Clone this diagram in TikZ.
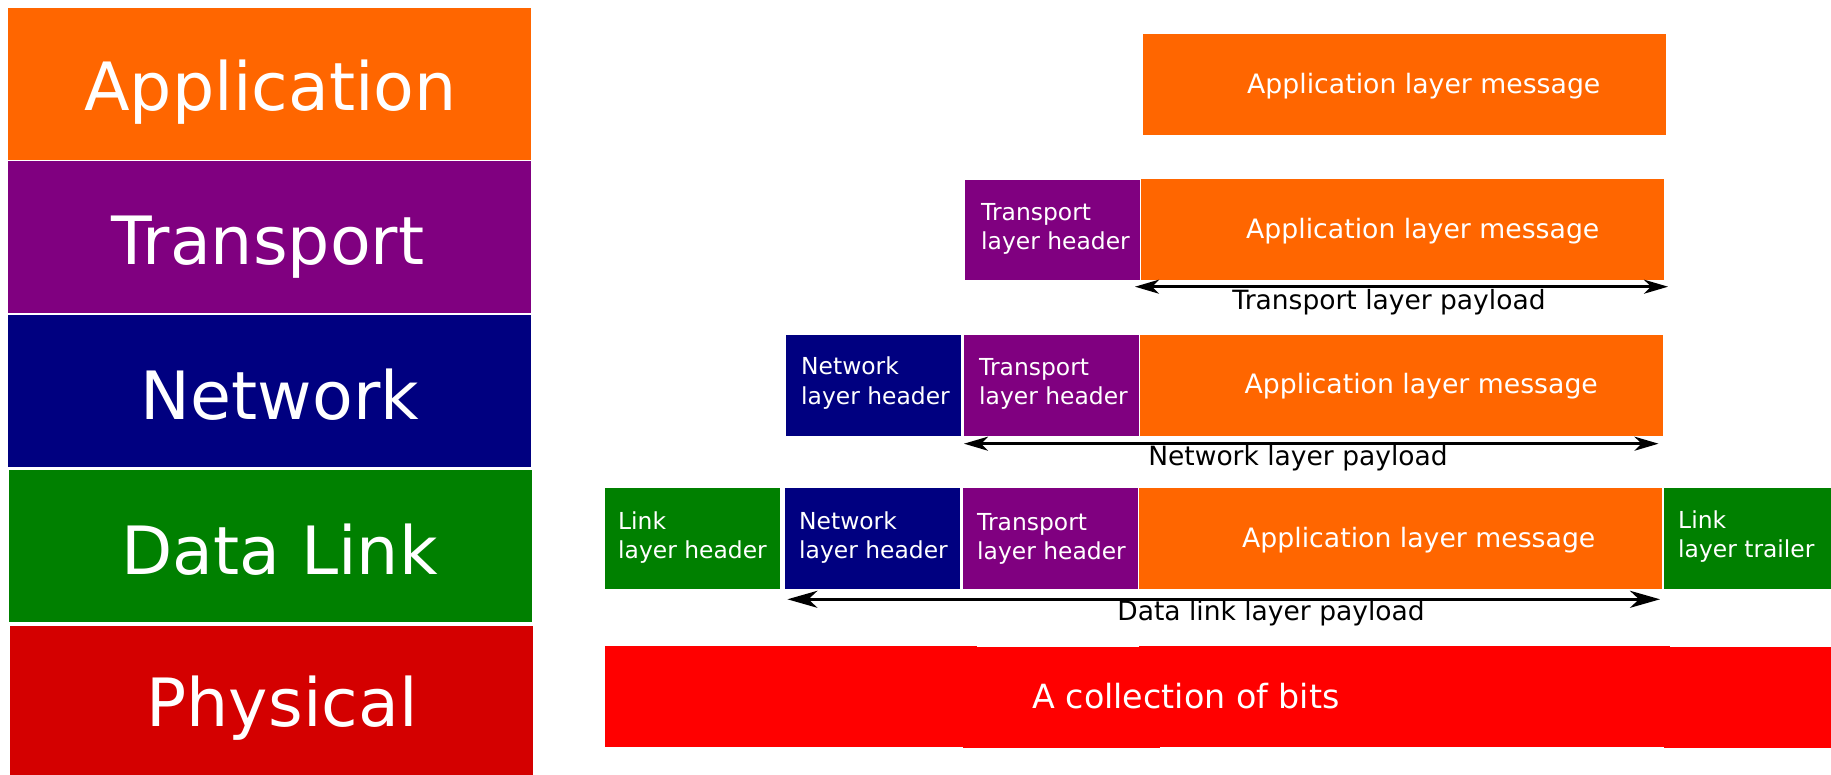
\documentclass[tikz,border=0pt]{standalone}
\usepackage{fontspec}
\setmainfont{DejaVu Sans}
\usetikzlibrary{arrows.meta}

\definecolor{appcol}{HTML}{FF6600}
\definecolor{trncol}{HTML}{800080}
\definecolor{netcol}{HTML}{000080}
\definecolor{lnkcol}{HTML}{008000}
\definecolor{phycol}{HTML}{D40000}
\definecolor{bitcol}{HTML}{FF0000}

\begin{document}
\begin{tikzpicture}[x=1pt,y=-1pt,
  block/.style={fill=#1, draw=none, inner sep=0pt, outer sep=0pt, anchor=north west},
  layername/.style={text=white, inner sep=0pt, anchor=base, font=\fontsize{66.6}{80}\selectfont},
  % two-line header labels; the base anchor sits on the second line
  hdrtext/.style={text=white, inner sep=0pt, anchor=base west, align=left, font=\fontsize{23.4}{29}\selectfont},
  msgtext/.style={text=white, inner sep=0pt, anchor=base west, font=\fontsize{26.7}{32}\selectfont},
  paytext/.style={text=black, inner sep=0pt, anchor=base, font=\fontsize{26.5}{32}\selectfont},
  bitstext/.style={text=white, inner sep=0pt, anchor=base, font=\fontsize{33.3}{40}\selectfont},
  payarrow/.style={line width=2.6pt, {Stealth[length=24pt, width=14pt, inset=7pt]}-{Stealth[length=24pt, width=14pt, inset=7pt]}},
  bigarrow/.style={line width=3pt, {Stealth[length=30pt, width=17pt, inset=9pt]}-{Stealth[length=30pt, width=17pt, inset=9pt]}}]
\useasboundingbox (0,0) rectangle (1831,775);

% ---- protocol stack ----
\node[block=appcol, minimum width=523, minimum height=152] (sApp) at (8,8) {};
\node[block=trncol, minimum width=523, minimum height=152] (sTrn) at (8,161) {};
\node[block=netcol, minimum width=523, minimum height=152] (sNet) at (8,315) {};
\node[block=lnkcol, minimum width=523, minimum height=152] (sLnk) at (9,470) {};
\node[block=phycol, minimum width=523, minimum height=150] (sPhy) at (10,626) {};
\node[layername] (sAppT) at (270.5,110.5) {Application};
\node[layername] (sTrnT) at (268,264.5) {Transport};
\node[layername] (sNetT) at (280,419.5) {Network};
\node[layername] (sLnkT) at (279.5,574.5) {Data Link};
\node[layername] (sPhyT) at (282,726.5) {Physical};

% ---- application layer ----
\node[block=appcol, minimum width=523, minimum height=101] (a1) at (1143,34) {};
\node[msgtext] (a1t) at (1247,93.5) {Application layer message};

% ---- transport layer ----
\node[block=trncol, minimum width=175, minimum height=100] (t2) at (965,180) {};
\node[block=appcol, minimum width=523, minimum height=101] (a2) at (1141,179) {};
\node[hdrtext] (t2t) at (981,250) {Transport\\layer header};
\node[msgtext] (a2t) at (1246,238.5) {Application layer message};
\coordinate (p2L) at (1135,286.7);
\coordinate (p2R) at (1668,286.7);
\draw[payarrow] (p2L) -- (p2R);
\node[paytext] (p2t) at (1389,309.5) {Transport layer payload};

% ---- network layer ----
\node[block=netcol, minimum width=175, minimum height=101] (n3) at (786,335) {};
\node[block=trncol, minimum width=175, minimum height=101] (t3) at (964,335) {};
\node[block=appcol, minimum width=523, minimum height=101] (a3) at (1140,335) {};
\node[hdrtext] (n3t) at (801,404) {Network\\layer header};
\node[hdrtext] (t3t) at (979,405) {Transport\\layer header};
\node[msgtext] (a3t) at (1244.5,393.5) {Application layer message};
\coordinate (p3L) at (964,443.7);
\coordinate (p3R) at (1658.5,443.7);
\draw[payarrow] (p3L) -- (p3R);
\node[paytext] (p3t) at (1298,465.5) {Network layer payload};

% ---- data link layer ----
\node[block=lnkcol, minimum width=175, minimum height=101] (l4) at (605,488) {};
\node[block=netcol, minimum width=175, minimum height=101] (n4) at (785,488) {};
\node[block=trncol, minimum width=175, minimum height=101] (t4) at (963,488) {};
\node[block=appcol, minimum width=523, minimum height=101] (a4) at (1139,488) {};
\node[block=lnkcol, minimum width=167, minimum height=101] (r4) at (1664,488) {};
\node[hdrtext] (l4t) at (618,558) {Link\\layer header};
\node[hdrtext] (n4t) at (799,558) {Network\\layer header};
\node[hdrtext] (t4t) at (977,559) {Transport\\layer header};
\node[msgtext] (a4t) at (1242,547.5) {Application layer message};
\node[hdrtext] (r4t) at (1678,557) {Link\\layer trailer};
\coordinate (p4L) at (787.4,599.3);
\coordinate (p4R) at (1660,599.3);
\draw[bigarrow] (p4L) -- (p4R);
\node[paytext] (p4t) at (1271,620.5) {Data link layer payload};

% ---- physical layer ----
\node[block=bitcol, minimum width=372, minimum height=101] (b1) at (605,646) {};
\node[block=bitcol, minimum width=197, minimum height=101] (b2) at (963,647) {};
\node[block=bitcol, minimum width=531, minimum height=101] (b3) at (1139,646) {};
\node[block=bitcol, minimum width=167, minimum height=101] (b4) at (1664,647) {};
\node[bitstext] (b5t) at (1186,708) {A collection of bits};
\end{tikzpicture}
\end{document}
